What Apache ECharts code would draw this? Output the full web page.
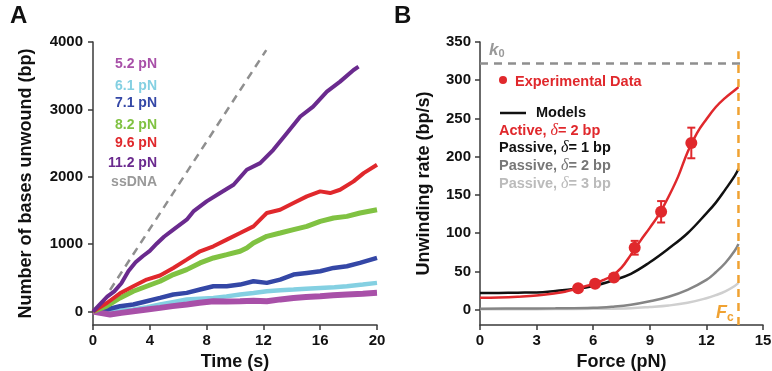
<!DOCTYPE html>
<html><head><meta charset="utf-8">
<script src="https://cdn.jsdelivr.net/npm/echarts@6/dist/echarts.min.js"></script>
<style>html,body{margin:0;padding:0;background:#fff}#c{width:772px;height:371px}</style>
</head><body><div id="c"></div>
<script>
// ---------- Panel A data: time (s), bases unwound (bp) ----------
const timeTicks = [0, 4, 8, 12, 16, 20];
const countTicks = [0, 1000, 2000, 3000, 4000];
const trace5_2 = [[0,0],[0.5,-20],[1.2,-44],[2,-20],[2.84,5],[3.8,30],[4.72,54],[5.6,80],[6.6,104],[7.5,130],[8.48,153],[9.4,150],[10.36,153],[11.3,160],[12.24,153],[13.2,180],[14.12,202],[15,215],[16,227],[16.9,240],[17.88,252],[19,265],[20,277]];
const trace6_1 = [[0,0],[0.96,5],[1.9,15],[2.84,30],[3.8,65],[4.72,104],[5.6,140],[6.6,178],[7.5,190],[8.48,202],[9.4,225],[10.36,252],[11.3,275],[12.24,301],[13.2,315],[14.12,326],[15,338],[16,350],[17,362],[17.88,375],[19,400],[20,425]];
const trace7_1 = [[0,0],[0.96,30],[1.9,79],[2.84,104],[3.78,153],[4.72,202],[5.66,252],[6.6,277],[7.54,326],[8.48,375],[9.42,375],[10.36,400],[11.3,449],[12.24,425],[13.18,474],[14.12,548],[15.06,573],[16,598],[16.94,647],[17.88,672],[18.8,721],[20,795]];
const trace8_2 = [[0,0],[0.96,79],[1.9,202],[2.84,301],[3.78,375],[4.72,449],[5.66,548],[6.6,622],[7.54,721],[8.48,795],[9.42,844],[10.36,894],[10.83,943],[11.3,1017],[12.24,1116],[13.18,1165],[14.12,1215],[15.06,1264],[16,1338],[16.94,1388],[17.88,1412],[18.8,1462],[20,1511]];
const trace9_6 = [[0,0],[1,130],[1.9,270],[2.84,375],[3.78,474],[4.72,535],[5.66,647],[6.6,770],[7.54,894],[8.48,968],[9.42,1067],[10.36,1165],[11.3,1264],[12,1412],[12.24,1462],[13.18,1511],[14.12,1610],[15.06,1709],[16,1783],[16.7,1758],[17.4,1807],[18.35,1931],[19.06,2054],[20,2178]];
const trace11_2 = [[0,0],[0.5,110],[1,220],[1.5,300],[2,420],[2.5,600],[3,730],[3.5,820],[4,900],[4.5,1010],[5,1110],[5.66,1215],[6.6,1363],[7.07,1486],[8,1634],[8.95,1758],[9.9,1881],[10.83,2104],[11.77,2202],[12.7,2400],[13.65,2647],[14.6,2894],[15.5,3042],[16.47,3264],[17.4,3412],[18.35,3585],[18.7,3634]];
const ssDNA = [[1.2,320],[12.2,3880]];

// ---------- Panel B data: force (pN), unwinding rate (bp/s) ----------
const forceTicks = [0, 3, 6, 9, 12, 15];
const rateTicks = [0, 50, 100, 150, 200, 250, 300, 350];
const expForce = [5.2, 6.1, 7.1, 8.2, 9.6, 11.2];
const expRate  = [28, 34, 42, 81, 128, 218];
const expErr   = [3, 3, 3, 9, 14, 20];
const activeD2 = [[0,15.5],[1,16],[2,17],[3,18.5],[4,21.5],[4.5,23.5],[5,26.5],[5.5,30],[6,33.5],[6.5,38.5],[7,44.5],[7.5,55],[8,72],[8.5,90],[9,107],[9.5,125],[10,148],[10.5,174],[11,206],[11.5,231],[12,249],[12.5,265],[13,277],[13.5,287],[13.7,291]];
const passiveD1 = [[0,21.8],[1,22],[2,22.3],[3,22.6],[4,24.5],[5,27],[6,31],[7,38],[8,47],[9,62],[10,80],[11,100],[12,126],[12.5,140],[13,157],[13.5,175],[13.7,184]];
const passiveD2 = [[0,1.3],[2,1.5],[4,1.8],[6,2.5],[7,4],[8,6.5],[9,11],[10,17],[11,26],[12,39],[12.5,49],[13,61],[13.5,77],[13.7,86]];
const passiveD3 = [[0,0.5],[2,0.6],[4,0.8],[6,1.2],[8,2],[9,3.5],[10,5.5],[11,9],[12,15],[12.5,19],[13,24],[13.5,31],[13.7,35]];
const k0Value = 322;
const FcValue = 13.7;

const FF = '"Liberation Sans", Arial, sans-serif';
const axisCol = '#3a3a3a';
const C = {m:'#a850a8', c:'#84d0e2', b:'#3447a6', g:'#80c242', r:'#e0282c', p:'#6a2a8e', s:'#8f8f8f', o:'#f0a232'};

function axisCommon(){
  return {
    axisLine:{show:true,onZero:false,lineStyle:{color:axisCol,width:1.5}},
    axisTick:{show:true,length:5,lineStyle:{color:axisCol,width:1.5}},
    axisLabel:{color:'#111',fontFamily:FF,fontWeight:'bold',fontSize:15, formatter:v=>String(v)},
    splitLine:{show:false},
    nameTextStyle:{color:'#111',fontFamily:FF,fontWeight:'bold',fontSize:18}
  };
}
function mk(extra){ const a = axisCommon(); return Object.assign(a, extra, {
  axisLabel:Object.assign(a.axisLabel, extra.axisLabel||{}),
  axisTick:Object.assign(a.axisTick, extra.axisTick||{}) }); }

const lineS = (xi, data, color, w, z, sm) => ({type:'line', xAxisIndex:xi, yAxisIndex:xi, data, showSymbol:false, symbol:'none', smooth:sm||false, lineStyle:{color, width:w}, z:z||2, silent:true});

const chart = echarts.init(document.getElementById('c'), null, {renderer:'canvas'});
chart.setOption({
  animation:false,
  backgroundColor:'#fff',
  grid:[
    {left:93, top:42, width:284, height:283, containLabel:false, outerBoundsMode:'none'},
    {left:480, top:42, width:283, height:283, containLabel:false, outerBoundsMode:'none'}
  ],
  xAxis:[
    mk({gridIndex:0, type:'value', min:0, max:20, interval:4, name:'Time (s)', nameLocation:'middle', nameGap:24, axisLabel:{margin:8, customValues:timeTicks}, axisTick:{customValues:timeTicks}}),
    mk({gridIndex:1, type:'value', min:0, max:15, interval:3, name:'Force (pN)', nameLocation:'middle', nameGap:24, axisLabel:{margin:8, customValues:forceTicks}, axisTick:{customValues:forceTicks}})
  ],
  yAxis:[
    mk({gridIndex:0, type:'value', min:-200, max:4000, name:'Number of bases unwound (bp)', nameLocation:'middle', nameGap:58, axisLabel:{margin:10, customValues:countTicks}, axisTick:{customValues:countTicks}}),
    mk({gridIndex:1, type:'value', min:-20, max:350, name:'Unwinding rate (bp/s)', nameLocation:'middle', nameGap:47, axisLabel:{margin:9, customValues:rateTicks}, axisTick:{customValues:rateTicks}})
  ],
  series:[
    lineS(0, trace6_1, C.c, 4.5, 2),
    lineS(0, trace7_1, C.b, 4.5, 3),
    lineS(0, trace5_2, C.m, 6, 4),
    lineS(0, trace8_2, C.g, 5, 5),
    lineS(0, trace9_6, C.r, 4, 6),
    lineS(0, trace11_2, C.p, 4, 7),
    {type:'line', xAxisIndex:0, yAxisIndex:0, data:ssDNA, symbol:'none', lineStyle:{color:C.s, width:2.5, type:[8,6]}, z:8},
    // Panel B
    {type:'line', xAxisIndex:1, yAxisIndex:1, data:[[0,k0Value],[14.05,k0Value]], symbol:'none', lineStyle:{color:C.s, width:2.5, type:[8,6]}, z:2},
    {type:'line', xAxisIndex:1, yAxisIndex:1, data:[[FcValue,-20],[FcValue,338]], symbol:'none', lineStyle:{color:C.o, width:2.5, type:[8,6]}, z:9},
    lineS(1, passiveD3, '#cfcfcf', 2.5, 3, 0.4),
    lineS(1, passiveD2, '#858585', 2.5, 4, 0.4),
    lineS(1, passiveD1, '#111111', 2.5, 5, 0.4),
    lineS(1, activeD2, C.r, 2.5, 6, 0.4),
    {type:'custom', xAxisIndex:1, yAxisIndex:1, z:7,
      data: expForce.map((f,i)=>[f, expRate[i], expErr[i]]),
      renderItem:(params, api)=>{
        const x=api.value(0), y=api.value(1), e=api.value(2);
        const t=api.coord([x,y+e]), b=api.coord([x,y-e]);
        const st={stroke:C.r, lineWidth:2};
        return {type:'group', children:[
          {type:'line', shape:{x1:t[0],y1:t[1],x2:b[0],y2:b[1]}, style:st},
          {type:'line', shape:{x1:t[0]-4,y1:t[1],x2:t[0]+4,y2:t[1]}, style:st},
          {type:'line', shape:{x1:b[0]-4,y1:b[1],x2:b[0]+4,y2:b[1]}, style:st}
        ]};
      }},
    {type:'scatter', xAxisIndex:1, yAxisIndex:1, z:8, data: expForce.map((f,i)=>[f, expRate[i]]), symbolSize:12, itemStyle:{color:C.r, opacity:1}}
  ],
  graphic:[
    {type:'text', left:10, top:4, style:{text:'A', font:'bold 24px '+FF, fill:'#111'}},
    {type:'text', left:394, top:4, style:{text:'B', font:'bold 24px '+FF, fill:'#111'}},
    // Panel A legend
    ...[['5.2 pN',C.m,64],['6.1 pN',C.c,86],['7.1 pN',C.b,103],['8.2 pN',C.g,125],['9.6 pN',C.r,143],['11.2 pN',C.p,163],['ssDNA','#999',182]].map(d=>({
      type:'text', x:157, y:d[2], style:{text:d[0], fill:d[1], font:'bold 14px '+FF, textAlign:'right', textVerticalAlign:'middle'}})),
    // Panel B legend
    {type:'text', x:489, y:50, style:{text:'{k|k}{s|0}', textVerticalAlign:'middle', rich:{k:{fill:'#999', font:'italic bold 17px '+FF}, s:{fill:'#999', font:'bold 11px '+FF, padding:[8,0,0,0]}}}},
    {type:'circle', shape:{cx:503, cy:80, r:4}, style:{fill:C.r}},
    {type:'text', x:515, y:82, style:{text:'Experimental Data', fill:C.r, font:'bold 14.5px '+FF, textVerticalAlign:'middle'}},
    {type:'line', shape:{x1:500,y1:113,x2:526,y2:113}, style:{stroke:'#111', lineWidth:2.5}},
    {type:'text', x:536, y:113, style:{text:'Models', fill:'#111', font:'bold 14.5px '+FF, textVerticalAlign:'middle'}},
    ...[['Active, ',C.r,131],['Passive, ','#111',148],['Passive, ','#777',166],['Passive, ','#bbb',184]].map((d,i)=>({
      type:'text', x:499, y:d[2], style:{text:'{a|'+d[0]+'}{d|δ}{a|= '+['2','1','2','3'][i]+' bp}', textVerticalAlign:'middle',
        rich:{a:{fill:d[1], font:'bold 14.5px '+FF}, d:{fill:d[1], font:'italic 16px "Liberation Serif", serif'}}}})),
    {type:'text', x:716, y:313, style:{text:'{f|F}{c|c}', textVerticalAlign:'middle', rich:{f:{fill:C.o, font:'italic bold 18px '+FF}, c:{fill:C.o, font:'bold 12px '+FF, padding:[9,0,0,0]}}}}
  ]
});
</script></body></html>
